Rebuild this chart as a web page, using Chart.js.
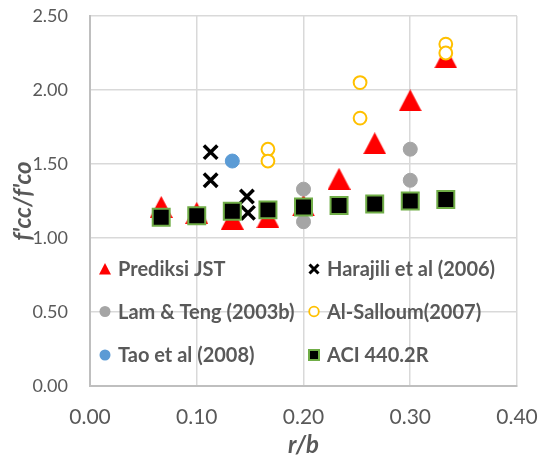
<!DOCTYPE html>
<html>
<head>
<meta charset="utf-8">
<script src="https://cdn.jsdelivr.net/npm/chart.js@4/dist/chart.umd.min.js"></script>
<style>
  html, body { margin: 0; padding: 0; background: #fff; }
  #wrap { width: 539px; height: 462px; }
</style>
</head>
<body>
<div id="wrap"><canvas id="scatter"></canvas></div>
<script>
// r/b vs f'cc/f'co - scatter chart

// data
const rbGrid = [0.0667, 0.1, 0.1333, 0.1667, 0.2, 0.2333, 0.2667, 0.3, 0.3333];
const jstY = [1.21, 1.17, 1.13, 1.14, 1.22, 1.40, 1.64, 1.93, 2.22];
const aciY = [1.14, 1.15, 1.18, 1.19, 1.21, 1.22, 1.23, 1.25, 1.26];

const harajiliX = [0.113, 0.113, 0.147, 0.148];
const harajiliY = [1.58, 1.39, 1.28, 1.17];

const lamTengX = [0.2, 0.2, 0.3, 0.3];
const lamTengY = [1.33, 1.11, 1.60, 1.39];

const alSalloumX = [0.1667, 0.1667, 0.253, 0.253, 0.3333, 0.3333];
const alSalloumY = [1.60, 1.52, 2.05, 1.81, 2.31, 2.25];

const taoX = [0.1333];
const taoY = [1.52];

const xTicks = [0, 0.1, 0.2, 0.3, 0.4];
const yTicks = [0, 0.5, 1.0, 1.5, 2.0, 2.5];

const textColor = "#595959";

function pts(xs, ys) {
  return xs.map((x, i) => ({ x: x, y: ys[i] }));
}

// excel style triangle (centred on its bounding box)
function triangleImg(w, h, color) {
  const c = document.createElement("canvas");
  c.width = w;
  c.height = h;
  const g = c.getContext("2d");
  g.fillStyle = color;
  g.beginPath();
  g.moveTo(w / 2, 0);
  g.lineTo(w, h);
  g.lineTo(0, h);
  g.closePath();
  g.fill();
  return c;
}

// legend drawn inside the plot area, two columns like the original
const legendItems = [
  { text: "Prediksi JST", kind: "tri", col: 0, row: 0 },
  { text: "Harajili et al (2006)", kind: "x", col: 1, row: 0 },
  { text: "Lam & Teng (2003b)", kind: "gray", col: 0, row: 1 },
  { text: "Al-Salloum(2007)", kind: "open", col: 1, row: 1 },
  { text: "Tao et al (2008)", kind: "blue", col: 0, row: 2 },
  { text: "ACI 440.2R", kind: "square", col: 1, row: 2 },
];

const insideLegend = {
  id: "insideLegend",
  afterDraw(chart) {
    const ctx = chart.ctx;
    const colX = [105, 314];
    const rowY = [269, 311.5, 355];
    ctx.save();
    ctx.font = "bold 20px Lato";
    ctx.textBaseline = "middle";
    legendItems.forEach((it) => {
      const x = colX[it.col];
      const y = rowY[it.row];
      ctx.beginPath();
      if (it.kind === "tri") {
        ctx.fillStyle = "#FF0000";
        ctx.moveTo(x, y - 6);
        ctx.lineTo(x + 6, y + 5.5);
        ctx.lineTo(x - 6, y + 5.5);
        ctx.closePath();
        ctx.fill();
      } else if (it.kind === "x") {
        ctx.strokeStyle = "#000";
        ctx.lineWidth = 3;
        ctx.moveTo(x - 4.5, y - 4.5);
        ctx.lineTo(x + 4.5, y + 4.5);
        ctx.moveTo(x + 4.5, y - 4.5);
        ctx.lineTo(x - 4.5, y + 4.5);
        ctx.stroke();
      } else if (it.kind === "gray" || it.kind === "blue") {
        ctx.fillStyle = it.kind === "gray" ? "#A5A5A5" : "#5B9BD5";
        ctx.arc(x, y, 5.5, 0, Math.PI * 2);
        ctx.fill();
      } else if (it.kind === "open") {
        ctx.fillStyle = "#fff";
        ctx.strokeStyle = "#FFC000";
        ctx.lineWidth = 1.8;
        ctx.arc(x, y, 4.8, 0, Math.PI * 2);
        ctx.fill();
        ctx.stroke();
      } else {
        ctx.fillStyle = "#000";
        ctx.strokeStyle = "#70AD47";
        ctx.lineWidth = 2;
        ctx.rect(x - 5, y - 5, 10, 10);
        ctx.fill();
        ctx.stroke();
      }
      ctx.fillStyle = textColor;
      ctx.fillText(it.text, x + 13, y + 1);
    });
    ctx.restore();
  },
};

const ctx = document.getElementById("scatter");

new Chart(ctx, {
  type: "scatter",
  data: {
    datasets: [
      {
        label: "Prediksi JST",
        data: pts(rbGrid, jstY),
        pointStyle: triangleImg(23, 22, "#FF0000"),
        order: 6,
      },
      {
        label: "Harajili et al (2006)",
        data: pts(harajiliX, harajiliY),
        pointStyle: "crossRot",
        pointRadius: 9.5,
        borderColor: "#000",
        pointBorderWidth: 3.5,
        order: 5,
      },
      {
        label: "Lam & Teng (2003b)",
        data: pts(lamTengX, lamTengY),
        pointStyle: "circle",
        pointRadius: 7,
        backgroundColor: "#A5A5A5",
        borderColor: "#A5A5A5",
        pointBorderWidth: 1,
        order: 4,
      },
      {
        label: "Al-Salloum(2007)",
        data: pts(alSalloumX, alSalloumY),
        pointStyle: "circle",
        pointRadius: 6.4,
        backgroundColor: "#FFFFFF",
        borderColor: "#FFC000",
        pointBorderWidth: 2,
        order: 3,
      },
      {
        label: "Tao et al (2008)",
        data: pts(taoX, taoY),
        pointStyle: "circle",
        pointRadius: 7,
        backgroundColor: "#5B9BD5",
        borderColor: "#5B9BD5",
        pointBorderWidth: 1,
        order: 2,
      },
      {
        label: "ACI 440.2R",
        data: pts(rbGrid, aciY),
        pointStyle: "rect",
        pointRadius: 12,
        backgroundColor: "#000",
        borderColor: "#70AD47",
        pointBorderWidth: 2,
        order: 1,
      },
    ],
  },
  options: {
    responsive: true,
    maintainAspectRatio: false,
    animation: false,
    events: [],
    layout: {
      autoPadding: false,
      padding: { left: 0, top: 16, right: 22, bottom: 0 },
    },
    plugins: {
      legend: { display: false },
      tooltip: { enabled: false },
    },
    scales: {
      x: {
        type: "linear",
        min: xTicks[0],
        max: xTicks[xTicks.length - 1],
        afterBuildTicks: (scale) => {
          scale.ticks = xTicks.map((v) => ({ value: v }));
        },
        afterFit: (scale) => {
          scale.height = 76;
          scale.paddingLeft = 0;
          scale.paddingRight = 0;
        },
        ticks: {
          color: textColor,
          font: { family: "Lato", size: 21 },
          padding: 19,
          callback: (v) => Number(v).toFixed(2),
        },
        grid: { color: "#D9D9D9", lineWidth: 1.5, drawTicks: false },
        border: { color: "#BFBFBF", width: 2 },
        title: {
          display: true,
          text: "r/b",
          color: textColor,
          font: { family: "Lato", size: 24, weight: "bold", style: "italic" },
          padding: { top: 0, bottom: 2 },
        },
      },
      y: {
        type: "linear",
        min: yTicks[0],
        max: yTicks[yTicks.length - 1],
        afterBuildTicks: (scale) => {
          scale.ticks = yTicks.map((v) => ({ value: v }));
        },
        afterFit: (scale) => {
          scale.width = 90;
          scale.paddingTop = 0;
          scale.paddingBottom = 0;
        },
        ticks: {
          color: textColor,
          font: { family: "Lato", size: 18 },
          padding: 22,
          callback: (v) => Number(v).toFixed(2),
        },
        grid: { color: "#D9D9D9", lineWidth: 1.5, drawTicks: false },
        border: { color: "#BFBFBF", width: 2 },
        title: {
          display: true,
          text: "f'cc/f'co",
          color: textColor,
          font: { family: "Lato", size: 24, weight: "bold", style: "italic" },
          padding: { top: 9, bottom: 0 },
        },
      },
    },
  },
  plugins: [insideLegend],
});
// r/b vs f'cc/f'co - scatter chart
</script>
</body>
</html>
